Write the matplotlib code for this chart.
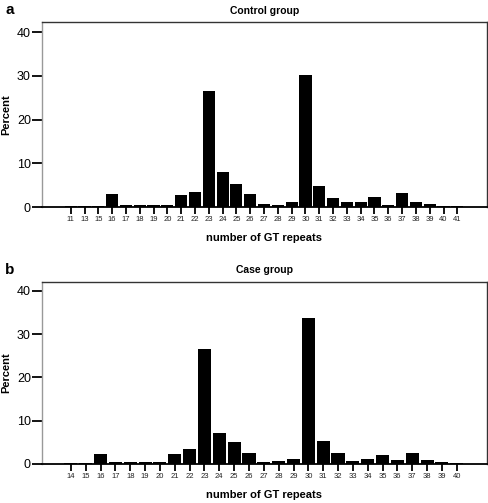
import numpy as np
import matplotlib
matplotlib.use("Agg")
import matplotlib.pyplot as plt

plt.rcParams['font.family'] = ['Liberation Sans', 'DejaVu Sans']

# repeat counts (x categories) and percentages
control_repeats = ['11', '13', '15'] + [str(i) for i in range(16, 42)]
control_pct = [0.3, 0.3, 0.3, 3.0, 0.45, 0.45, 0.6, 0.6, 2.7, 3.4, 26.6, 8.0,
               5.3, 3.0, 0.8, 0.6, 1.2, 30.2, 4.9, 2.1, 1.2, 1.2, 2.3, 0.5,
               3.2, 1.1, 0.7, 0.3, 0.3]

case_repeats = [str(i) for i in range(14, 41)]
case_pct = [0.2, 0.2, 2.3, 0.4, 0.4, 0.5, 0.5, 2.2, 3.5, 26.5, 7.1, 5.1, 2.6,
            0.5, 0.6, 1.2, 33.8, 5.2, 2.5, 0.6, 1.2, 2.0, 1.0, 2.6, 1.0, 0.5,
            0.2]

yticks = [0, 10, 20, 30, 40]

W, H = 488, 503
fig = plt.figure(figsize=(W / 100, H / 100), dpi=100)


def panel(rect, labels, values, title, letter, ytop, pad):
    ax = fig.add_axes(rect)
    x = np.arange(len(labels))
    ax.bar(x, values, width=0.88, color='black', linewidth=0, zorder=3)
    ax.set_xlim(-pad[0], len(labels) - 1 + pad[1])
    ax.set_ylim(0, ytop)
    ax.set_yticks(yticks)
    ax.set_xticks(x)
    ax.set_xticklabels(labels, fontsize=5.5, color='#222222')
    ax.tick_params(axis='y', direction='out', length=7, width=1.3,
                   labelsize=9, pad=1)
    ax.tick_params(axis='x', direction='out', length=5, width=1.3, pad=1.5)
    for s in ['top', 'right']:
        ax.spines[s].set_color('#333333')
        ax.spines[s].set_linewidth(1.0)
    ax.spines['left'].set_color('#999999')
    ax.spines['left'].set_linewidth(1.0)
    ax.spines['bottom'].set_linewidth(1.3)
    ax.set_ylabel('Percent', fontsize=8, fontweight='bold', labelpad=4)
    ax.set_xlabel('number of GT repeats', fontsize=8, fontweight='bold',
                  labelpad=7)
    ax.set_title(title, fontsize=7.5, fontweight='bold', pad=6)
    fig.text(5 / W, rect[1] + rect[3] + 12 / H, letter, fontsize=11,
             fontweight='bold', va='center', ha='left')
    return ax


panel([42 / W, 1 - 207.3 / H, 445 / W, 185.3 / H], control_repeats,
      control_pct, 'Control group', 'a', 42.3, (2.08, 2.15))
panel([42 / W, 1 - 464 / H, 445 / W, 182.3 / H], case_repeats,
      case_pct, 'Case group', 'b', 42.1, (1.95, 2.04))

fig.savefig('out.png', dpi=100)
